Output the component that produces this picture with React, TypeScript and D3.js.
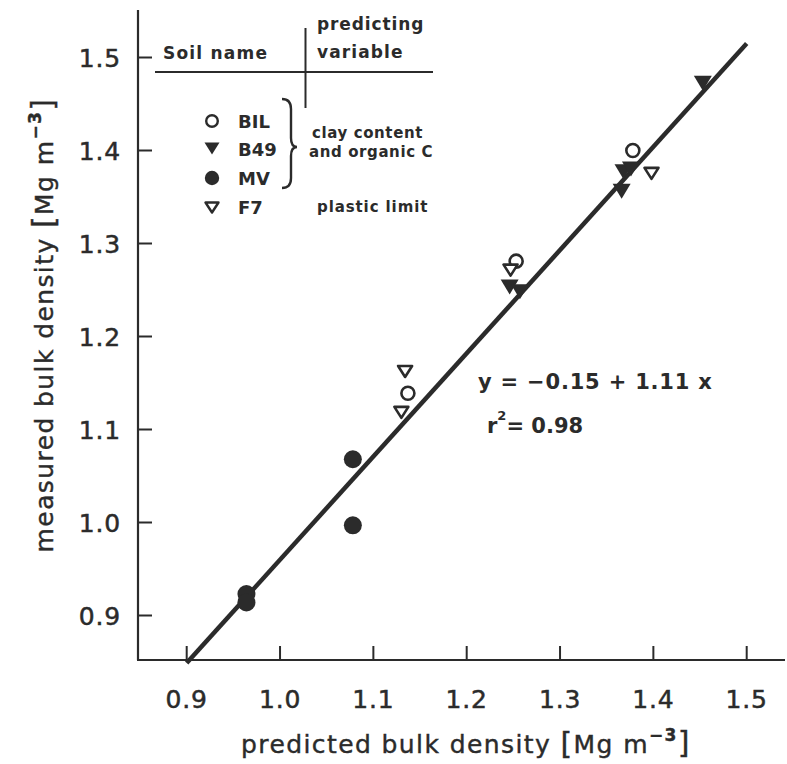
import React from "react";
import * as d3 from "d3";

const xTicks = [0.9, 1.0, 1.1, 1.2, 1.3, 1.4, 1.5];
const yTicks = [0.9, 1.0, 1.1, 1.2, 1.3, 1.4, 1.5];

// BIL: open circles
const bilX = [1.137, 1.253, 1.378];
const bilY = [1.139, 1.281, 1.400];
// B49: filled down triangles
const b49X = [1.246, 1.257, 1.368, 1.376, 1.366, 1.453];
const b49Y = [1.254, 1.249, 1.378, 1.381, 1.357, 1.473];
// MV: filled circles
const mvX = [0.964, 0.964, 1.078, 1.078];
const mvY = [0.923, 0.914, 1.068, 0.997];
// F7: open down triangles
const f7X = [1.134, 1.130, 1.247, 1.398];
const f7Y = [1.163, 1.119, 1.272, 1.376];

const intercept = -0.15;
const slope = 1.11;
const lineX = [0.9, 1.5];

const W = 787;
const H = 764;

const x = d3.scaleLinear().domain([0.9, 1.5]).range([186.7, 746.7]);
const y = d3.scaleLinear().domain([0.9, 1.5]).range([615.5, 57.5]);

const axisLeftX = 138;
const axisBottomY = 660;
const INK = "#2b2b2b";
const FONT = "'DejaVu Sans', 'Liberation Sans', sans-serif";

function triPath(cx: number, cy: number, w: number, h: number) {
  const top = cy - h * 0.45;
  const bot = cy + h * 0.55;
  return `M${cx - w / 2},${top} L${cx + w / 2},${top} L${cx},${bot} Z`;
}

function Unit() {
  return (
    <>
      <tspan fontSize={30} dy={1}>[</tspan>
      <tspan dy={-1}>Mg m</tspan>
      <tspan dy={-12} fontSize={17} fontWeight="bold">−3</tspan>
      <tspan dy={12} fontSize={30}>]</tspan>
    </>
  );
}

export default function App() {
  const line = d3
    .line<number>()
    .x((d) => x(d))
    .y((d) => y(intercept + slope * d));

  const bil = bilX.map((v, i) => [v, bilY[i]]);
  const b49 = b49X.map((v, i) => [v, b49Y[i]]);
  const mv = mvX.map((v, i) => [v, mvY[i]]);
  const f7 = f7X.map((v, i) => [v, f7Y[i]]);

  return (
    <svg
      width={W}
      height={H}
      style={{ position: "absolute", left: 0, top: 0, background: "#fff" }}
      fontFamily={FONT}
    >
      <rect x={0} y={0} width={W} height={H} fill="#fff" />
      {/* axes */}
      <line x1={axisLeftX} y1={10} x2={axisLeftX} y2={axisBottomY} stroke={INK} strokeWidth={2.2} />
      <line x1={axisLeftX - 1} y1={axisBottomY} x2={785} y2={axisBottomY} stroke={INK} strokeWidth={2.2} />
      {yTicks.map((t) => (
        <g key={"y" + t}>
          <line x1={axisLeftX} x2={axisLeftX + 14} y1={y(t)} y2={y(t)} stroke={INK} strokeWidth={2} />
          <text
            x={121}
            y={y(t) + 9}
            textAnchor="end"
            fontSize={25}
            letterSpacing={0.8}
            fill={INK}
            stroke={INK}
            strokeWidth={0.5}
          >
            {t.toFixed(1)}
          </text>
        </g>
      ))}
      {xTicks.map((t) => (
        <g key={"x" + t}>
          <line x1={x(t)} x2={x(t)} y1={axisBottomY} y2={axisBottomY - 14} stroke={INK} strokeWidth={2} />
          <text
            x={x(t)}
            y={708}
            textAnchor="middle"
            fontSize={25}
            letterSpacing={0.8}
            fill={INK}
            stroke={INK}
            strokeWidth={0.5}
          >
            {t.toFixed(1)}
          </text>
        </g>
      ))}
      {/* axis titles */}
      <text
        x={466}
        y={753}
        textAnchor="middle"
        fontSize={25}
        letterSpacing={1.4}
        fill={INK}
        stroke={INK}
        strokeWidth={0.4}
      >
        predicted bulk density <Unit />
      </text>
      <text
        transform="translate(53,325) rotate(-90)"
        textAnchor="middle"
        fontSize={25}
        letterSpacing={1.4}
        fill={INK}
        stroke={INK}
        strokeWidth={0.4}
      >
        measured bulk density <Unit />
      </text>

      {/* regression line */}
      <path d={line(lineX) || ""} fill="none" stroke={INK} strokeWidth={4.5} />

      {/* data */}
      {mv.map((p, i) => (
        <circle key={"mv" + i} cx={x(p[0])} cy={y(p[1])} r={9} fill={INK} />
      ))}
      {b49.map((p, i) => (
        <path key={"b" + i} d={triPath(x(p[0]), y(p[1]), 18, 15)} fill={INK} />
      ))}
      {bil.map((p, i) => (
        <circle key={"bil" + i} cx={x(p[0])} cy={y(p[1])} r={6.5} fill="#fff" stroke={INK} strokeWidth={2.6} />
      ))}
      {f7.map((p, i) => (
        <path
          key={"f" + i}
          d={triPath(x(p[0]), y(p[1]), 14, 11)}
          fill="#fff"
          stroke={INK}
          strokeWidth={2.6}
          strokeLinejoin="round"
        />
      ))}

      {/* legend table */}
      <g fill={INK} fontWeight="bold">
        <text x={163} y={59} fontSize={17} letterSpacing={1.2}>Soil name</text>
        <text x={317} y={30} fontSize={17} letterSpacing={0.9}>predicting</text>
        <text x={317} y={58} fontSize={17} letterSpacing={1.1}>variable</text>
        <line x1={155} x2={433} y1={72} y2={72} stroke={INK} strokeWidth={2} />
        <line x1={305.5} x2={305.5} y1={28} y2={108} stroke={INK} strokeWidth={2} />

        <circle cx={212} cy={121} r={5.8} fill="#fff" stroke={INK} strokeWidth={2.4} />
        <text x={238} y={127.5} fontSize={18}>BIL</text>
        <path d={triPath(212, 148, 15, 12)} fill={INK} />
        <text x={238} y={156} fontSize={18}>B49</text>
        <circle cx={212} cy={178} r={7.2} fill={INK} />
        <text x={238} y={185} fontSize={18}>MV</text>
        <path d={triPath(212, 207, 13, 10)} fill="#fff" stroke={INK} strokeWidth={2.4} strokeLinejoin="round" />
        <text x={238} y={214} fontSize={18}>F7</text>

        <path
          d="M282,99 Q291,99 291,109 L291,138 Q291,147 297,147 Q291,147 291,156 L291,178 Q291,188 282,188"
          fill="none"
          stroke={INK}
          strokeWidth={2.4}
        />
        <text x={312} y={138} fontSize={15} letterSpacing={0.6}>clay content</text>
        <text x={309} y={157} fontSize={15} letterSpacing={0.6}>and organic C</text>
        <text x={317} y={212} fontSize={15} letterSpacing={0.9}>plastic limit</text>
      </g>

      {/* equation */}
      <g fill={INK} fontWeight="bold">
        <text x={478} y={389} fontSize={21} letterSpacing={0.8}>y = −0.15 + 1.11 x</text>
        <text x={487} y={433} fontSize={21}>
          r<tspan dy={-13} fontSize={13}>2</tspan>
          <tspan dy={13}>= 0.98</tspan>
        </text>
      </g>
    </svg>
  );
}
